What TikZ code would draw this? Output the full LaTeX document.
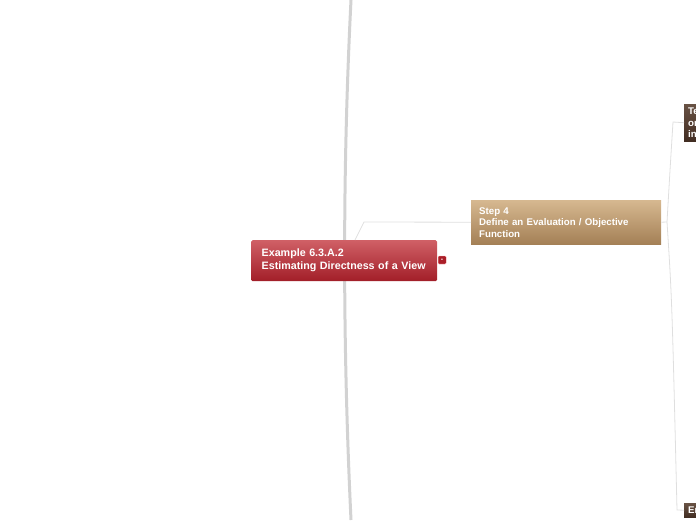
\documentclass[tikz,border=0pt]{standalone}
\usepackage{fontspec}
\setmainfont{Liberation Sans}
\usetikzlibrary{shadings}

\begin{document}
\begin{tikzpicture}[x=1pt, y=-1pt,
    mainbox/.style={rectangle, rounded corners=1.5pt, top color={rgb,255:red,208;green,96;blue,102}, bottom color={rgb,255:red,162;green,30;blue,40},
        text=white, font=\bfseries\fontsize{10.7}{13}\selectfont, align=left, anchor=north west,
        inner xsep=10.5pt, inner ysep=0pt},
    stepbox/.style={rectangle, top color={rgb,255:red,214;green,184;blue,144}, bottom color={rgb,255:red,164;green,128;blue,86},
        text=white, font=\bfseries\fontsize{9.7}{11.5}\selectfont, align=left, anchor=north west,
        inner xsep=8pt, inner ysep=0pt},
    subbox/.style={rectangle, top color={rgb,255:red,104;green,82;blue,68}, bottom color={rgb,255:red,66;green,45;blue,34},
        text=white, font=\bfseries\fontsize{9.7}{11.5}\selectfont, align=left, anchor=north west,
        inner xsep=4pt, inner ysep=0pt},
    link/.style={draw=gray!25, line width=0.8pt}]
    % Page size
    \useasboundingbox (0,0) rectangle (696,520);
    \clip (0,0) rectangle (696,520);

    % Main trunk
    \draw[gray!35, line width=3pt] (351,0) .. controls (343,160) and (342,330) .. (351,520);

    % Centre node and its button
    \node[mainbox, minimum width=186pt, minimum height=41pt, text width=165pt] (example) at (251,240)
        {Example 6.3.A.2\\Estimating Directness of a View};
    \node[fill={rgb,255:red,170;green,30;blue,40}, draw=red!30, line width=0.3pt, rounded corners=1pt, minimum size=8pt, inner sep=0pt, anchor=west,
        text=white, font=\bfseries\fontsize{7}{7}\selectfont] (toggle) at (438,260) {-};

    % Step 4
    \node[stepbox, minimum width=190pt, minimum height=44pt, text width=174pt] (step4) at (471,200)
        {Step 4\\Define an Evaluation / Objective\\Function};
    \coordinate (bend) at (364,222);
    \coordinate (exjoin) at (355,240);
    \draw[link] (step4.west) -- (bend) -- (exjoin);

    % Sub nodes, cut by the page edge
    \node[subbox, minimum width=60pt, minimum height=37pt, text width=52pt] (test) at (684,104)
        {Test\\or\\in};
    \node[subbox, minimum width=60pt, minimum height=14pt, text width=52pt] (end) at (684,503)
        {En};
    \coordinate (fork) at (667,222);
    \draw[link] (step4.east) -- (fork);
    \draw[link] (fork) .. controls (670,170) .. (673,122) -- (test.west);
    \draw[link] (fork) .. controls (672,300) .. (677,510) -- (end.west);
\end{tikzpicture}
\end{document}
